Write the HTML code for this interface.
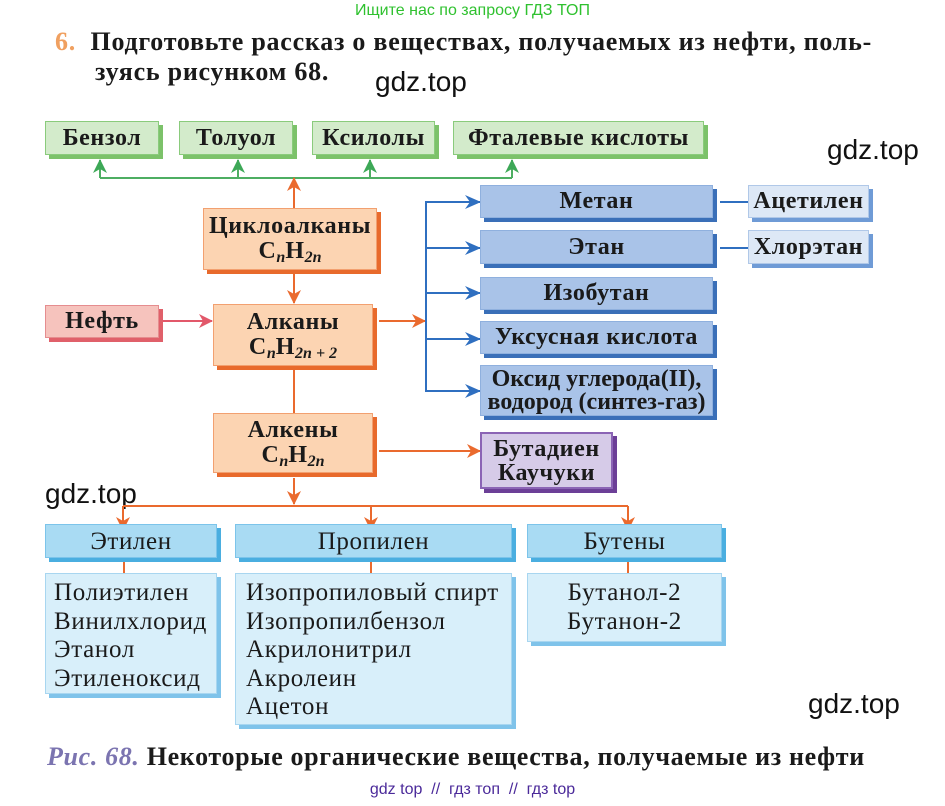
<!DOCTYPE html>
<html><head><meta charset="utf-8"><style>
body{margin:0;width:945px;height:806px;background:#fff;position:relative;overflow:hidden;font-family:"Liberation Serif",serif;}
.b{position:absolute;box-sizing:border-box;display:flex;flex-direction:column;align-items:center;justify-content:center;font-size:24px;font-weight:bold;letter-spacing:0.6px;line-height:25px;color:#1a1a1a;text-align:center;white-space:nowrap;}
.g{background:#d3ebcb;border:1px solid #8acb7c;box-shadow:4px 4px 0 #7cc26a;}
.o{background:#fcd4b2;border:1px solid #f2a070;box-shadow:4px 4px 0 #e86a2c;}
.r{background:#f6c3bd;border:1px solid #e58d8f;box-shadow:4px 4px 0 #e0606a;}
.bl{background:#a9c3e8;border:1px solid #8fb0de;box-shadow:4px 4px 0 #3a6fb8;}
.lb{background:#dde8f6;border:1px solid #b0c8e8;box-shadow:4px 4px 0 #6f9bd6;}
.p{background:#d6cbe8;border:2px solid #8b64b5;box-shadow:4px 4px 0 #6c3f97;}
.c{background:#a9dbf3;border:1px solid #7cc4ea;box-shadow:4px 4px 0 #4aaee0;font-weight:normal;font-size:25px;}
.l{background:#d8effa;border:1px solid #a8d6f0;box-shadow:4px 4px 0 #7fc3ea;align-items:flex-start;justify-content:flex-start;padding:5px 0 0 8px;line-height:28.5px;font-weight:normal;font-size:25px;letter-spacing:0.7px;}
.w{position:absolute;font-family:"Liberation Sans",sans-serif;font-size:28px;color:#111;}
sub{font-size:16px;font-style:italic;vertical-align:-4px;line-height:0;letter-spacing:0}
i{font-style:italic}
</style></head><body>
<div style="position:absolute;left:0;width:945px;top:2px;text-align:center;font-family:'Liberation Sans',sans-serif;font-size:16px;color:#2fc12f;">Ищите нас по запросу ГДЗ ТОП</div>
<div style="position:absolute;left:55px;top:27px;font-size:26px;font-weight:bold;line-height:30px;color:#1a1a1a;letter-spacing:0.75px;white-space:nowrap;"><span style="color:#f0a060">6.</span>&nbsp; Подготовьте рассказ о веществах, получаемых из нефти, поль-<br><span style="margin-left:40px">зуясь рисунком 68.</span></div>
<div class="w" style="left:375px;top:66px;">gdz.top</div>
<div class="w" style="left:827px;top:134px;">gdz.top</div>
<div class="w" style="left:45px;top:478px;">gdz.top</div>
<div class="w" style="left:808px;top:688px;">gdz.top</div>

<svg width="945" height="806" style="position:absolute;left:0;top:0" xmlns="http://www.w3.org/2000/svg">
<defs>
<marker id="ag" markerWidth="14" markerHeight="14" refX="13" refY="7" orient="auto" markerUnits="userSpaceOnUse" viewBox="0 0 14 14"><path d="M0,0 L14,7 L0,14 L4,7z" fill="#3da857"/></marker>
<marker id="ao" markerWidth="14" markerHeight="14" refX="13" refY="7" orient="auto" markerUnits="userSpaceOnUse" viewBox="0 0 14 14"><path d="M0,0 L14,7 L0,14 L4,7z" fill="#ea6a2e"/></marker>
<marker id="ar" markerWidth="14" markerHeight="14" refX="13" refY="7" orient="auto" markerUnits="userSpaceOnUse" viewBox="0 0 14 14"><path d="M0,0 L14,7 L0,14 L4,7z" fill="#e2586a"/></marker>
<marker id="ab" markerWidth="16" markerHeight="14" refX="15" refY="7" orient="auto" markerUnits="userSpaceOnUse" viewBox="0 0 16 14"><path d="M0,0 L16,7 L0,14 L5,7z" fill="#2f6fc0"/></marker>
</defs>
<g stroke="#4eae62" stroke-width="2" fill="none">
<path d="M100,178 H512"/>
<line x1="100" y1="178" x2="100" y2="160" marker-end="url(#ag)"/>
<line x1="238" y1="178" x2="238" y2="160" marker-end="url(#ag)"/>
<line x1="370" y1="178" x2="370" y2="160" marker-end="url(#ag)"/>
<line x1="512" y1="178" x2="512" y2="160" marker-end="url(#ag)"/>
</g>
<g stroke="#ea6a2e" stroke-width="2" fill="none">
<line x1="294" y1="208" x2="294" y2="178" marker-end="url(#ao)"/>
<line x1="294" y1="273" x2="294" y2="303" marker-end="url(#ao)"/>
<line x1="379" y1="321" x2="425" y2="321" marker-end="url(#ao)"/>
<line x1="294" y1="370" x2="294" y2="413"/>
<line x1="379" y1="451" x2="480" y2="451" marker-end="url(#ao)"/>
<line x1="294" y1="478" x2="294" y2="504" marker-end="url(#ao)"/>
<path d="M123,506 H628"/>
<line x1="123" y1="506" x2="123" y2="530" marker-end="url(#ao)"/>
<line x1="371" y1="506" x2="371" y2="530" marker-end="url(#ao)"/>
<line x1="628" y1="506" x2="628" y2="530" marker-end="url(#ao)"/>
<line x1="124" y1="562" x2="124" y2="573"/>
<line x1="371" y1="562" x2="371" y2="573"/>
<line x1="628" y1="562" x2="628" y2="573"/>
</g>
<line x1="162" y1="321" x2="212" y2="321" stroke="#e2586a" stroke-width="2" marker-end="url(#ar)"/>
<g stroke="#2f6fc0" stroke-width="2" fill="none">
<path d="M480,202 H426 V391 H480"/>
<line x1="426" y1="202" x2="480" y2="202" marker-end="url(#ab)"/>
<line x1="426" y1="248" x2="480" y2="248" marker-end="url(#ab)"/>
<line x1="426" y1="293" x2="480" y2="293" marker-end="url(#ab)"/>
<line x1="426" y1="339" x2="480" y2="339" marker-end="url(#ab)"/>
<line x1="426" y1="391" x2="480" y2="391" marker-end="url(#ab)"/>
<line x1="720" y1="202" x2="748" y2="202"/>
<line x1="720" y1="248" x2="748" y2="248"/>
</g>
</svg>

<div class="b g" style="left:45px;top:121px;width:114px;height:34px;">Бензол</div>
<div class="b g" style="left:179px;top:121px;width:114px;height:34px;">Толуол</div>
<div class="b g" style="left:312px;top:121px;width:123px;height:34px;">Ксилолы</div>
<div class="b g" style="left:453px;top:121px;width:251px;height:34px;">Фталевые кислоты</div>

<div class="b o" style="left:203px;top:208px;width:174px;height:62px;"><div>Циклоалканы</div><div>C<sub>n</sub>H<sub>2n</sub></div></div>
<div class="b r" style="left:45px;top:305px;width:114px;height:33px;">Нефть</div>
<div class="b o" style="left:213px;top:304px;width:160px;height:62px;"><div>Алканы</div><div>C<sub>n</sub>H<sub>2<i>n</i> + 2</sub></div></div>
<div class="b o" style="left:213px;top:413px;width:160px;height:60px;"><div>Алкены</div><div>C<sub>n</sub>H<sub>2n</sub></div></div>

<div class="b bl" style="left:480px;top:185px;width:233px;height:33px;">Метан</div>
<div class="b bl" style="left:480px;top:230px;width:233px;height:34px;">Этан</div>
<div class="b bl" style="left:480px;top:277px;width:233px;height:33px;">Изобутан</div>
<div class="b bl" style="left:480px;top:321px;width:233px;height:33px;">Уксусная кислота</div>
<div class="b bl" style="left:480px;top:365px;width:233px;height:51px;line-height:23px;letter-spacing:0;"><div>Оксид углерода(II),</div><div>водород (синтез-газ)</div></div>
<div class="b lb" style="left:748px;top:185px;width:121px;height:33px;">Ацетилен</div>
<div class="b lb" style="left:748px;top:230px;width:121px;height:34px;">Хлорэтан</div>
<div class="b p" style="left:480px;top:432px;width:133px;height:57px;line-height:24px;"><div>Бутадиен</div><div>Каучуки</div></div>

<div class="b c" style="left:45px;top:524px;width:172px;height:34px;">Этилен</div>
<div class="b c" style="left:235px;top:524px;width:277px;height:34px;">Пропилен</div>
<div class="b c" style="left:527px;top:524px;width:195px;height:34px;">Бутены</div>
<div class="b l" style="left:45px;top:573px;width:172px;height:121px;"><div>Полиэтилен</div><div>Винилхлорид</div><div>Этанол</div><div>Этиленоксид</div></div>
<div class="b l" style="left:235px;top:573px;width:277px;height:152px;padding-left:10px;"><div>Изопропиловый спирт</div><div>Изопропилбензол</div><div>Акрилонитрил</div><div>Акролеин</div><div>Ацетон</div></div>
<div class="b l" style="left:527px;top:573px;width:195px;height:69px;align-items:center;padding-left:0;"><div>Бутанол-2</div><div>Бутанон-2</div></div>

<div style="position:absolute;left:47px;top:742px;font-size:26px;font-weight:bold;color:#1a1a1a;letter-spacing:0.65px;white-space:nowrap;"><span style="color:#7b74b0;font-style:italic;">Рис. 68.</span> Некоторые органические вещества, получаемые из нефти</div>
<div style="position:absolute;left:0;width:945px;top:781px;text-align:center;font-family:'Liberation Sans',sans-serif;font-size:16px;color:#4b2a9a;">gdz top &nbsp;// &nbsp;гдз топ &nbsp;// &nbsp;гдз top</div>
</body></html>
